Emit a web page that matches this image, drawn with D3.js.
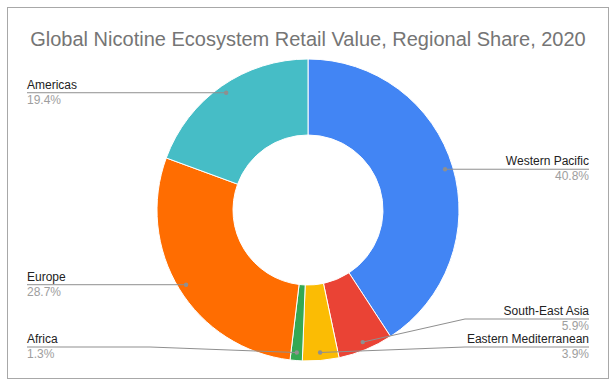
<!DOCTYPE html>
<html>
<head>
<meta charset="utf-8">
<script src="https://cdn.jsdelivr.net/npm/d3@7"></script>
<style>
  body { margin: 0; background: #fff; }
  svg { font-family: "Liberation Sans", Arial, sans-serif; }
</style>
</head>
<body>
<div id="chart"></div>
<script>
const regions = ["Western Pacific", "South-East Asia", "Eastern Mediterranean", "Africa", "Europe", "Americas"];
const shares = [40.8, 5.9, 3.9, 1.3, 28.7, 19.4];
const colors = ["#4285f4", "#ea4335", "#fbbc04", "#34a853", "#ff6d01", "#46bdc6"];

const width = 616, height = 387;
const cx = 308, cy = 210,
    outerRadius = 151,
    innerRadius = 75;

let svg = d3.select("#chart").append("svg")
    .attr("width", width)
    .attr("height", height);

svg.append("rect")
    .attr("x", 7.5).attr("y", 7.5)
    .attr("width", 601).attr("height", 371)
    .attr("fill", "#fff")
    .attr("stroke", "#a8a8a8");

svg.append("text")
    .attr("x", cx)
    .attr("y", 46)
    .attr("text-anchor", "middle")
    .attr("font-size", 20)
    .attr("fill", "#757575")
    .text("Global Nicotine Ecosystem Retail Value, Regional Share, 2020");

let data = regions.map((r, i) => ({name: r, value: shares[i], color: colors[i]}));
let total = d3.sum(shares);
let fmt = d3.format(".1%");

let pie = d3.pie().value(d => d.value).sort(null);
let arcs = pie(data);

let arc = d3.arc().innerRadius(innerRadius).outerRadius(outerRadius);
let dotArc = d3.arc().innerRadius(143).outerRadius(143);

let g = svg.append("g").attr("transform", `translate(${cx},${cy})`);

g.selectAll("path.slice")
    .data(arcs)
    .join("path")
    .attr("class", "slice")
    .attr("d", arc)
    .attr("fill", d => d.data.color)
    .attr("stroke", "#fff")
    .attr("stroke-width", 1);

// label placement: start at the dot height, push apart from the bottom up
arcs.forEach(d => {
  let c = dotArc.centroid(d);
  d.dot = [cx + c[0], cy + c[1]];
  d.right = (d.startAngle + d.endAngle) / 2 < Math.PI;
});
[true, false].forEach(side => {
  let list = arcs.filter(d => d.right === side).sort((a, b) => b.dot[1] - a.dot[1]);
  let prev = 347 + 28;
  list.forEach(d => {
    d.ly = Math.min(d.dot[1], prev - 28);
    prev = d.ly;
  });
});

let labels = svg.append("g").selectAll("g.label")
    .data(arcs)
    .join("g")
    .attr("class", "label");

labels.append("polyline")
    .attr("fill", "none")
    .attr("stroke", "#8f8f8f")
    .attr("stroke-width", 1)
    .attr("points", d => {
      let x0 = d.right ? 589 : 27;
      let x1 = d.right ? 465 : 150;
      return [[x0, d.ly], [x1, d.ly], d.dot].map(p => p.join(",")).join(" ");
    });

labels.append("circle")
    .attr("cx", d => d.dot[0])
    .attr("cy", d => d.dot[1])
    .attr("r", 2.2)
    .attr("fill", "#8f8f8f");

labels.append("text")
    .attr("x", d => d.right ? 589 : 27)
    .attr("y", d => d.ly - 4)
    .attr("text-anchor", d => d.right ? "end" : "start")
    .attr("font-size", 12)
    .attr("fill", "#222")
    .text(d => d.data.name);

labels.append("text")
    .attr("x", d => d.right ? 589 : 27)
    .attr("y", d => d.ly + 11)
    .attr("text-anchor", d => d.right ? "end" : "start")
    .attr("font-size", 12)
    .attr("fill", "#9e9e9e")
    .text(d => fmt(d.data.value / total));
</script>
</body>
</html>
